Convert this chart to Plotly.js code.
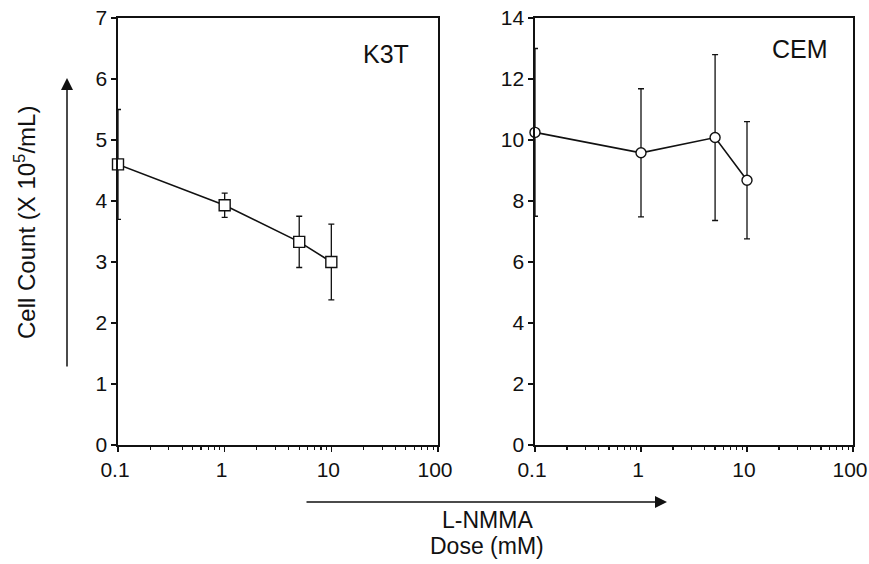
<!DOCTYPE html>
<html>
<head>
<meta charset="utf-8">
<script src="https://cdn.plot.ly/plotly-3.0.1.min.js"></script>
<style>html,body{margin:0;padding:0;background:#fff;}#chart{width:869px;height:564px;}</style>
</head>
<body>
<div id="chart"></div>
<script>
// Data
const dose = [0.1, 1, 5, 10];
const k3tCount = [4.6, 3.93, 3.33, 3.0];
const k3tErr = [0.9, 0.2, 0.42, 0.62];
const cemCount = [10.25, 9.58, 10.08, 8.68];
const cemErr = [2.75, 2.1, 2.72, 1.92];
const xTickVals = [0.1, 1, 10, 100];
const xTickText = ['0.1', '1', '10', '100'];
const minorTickVals = [0.2,0.3,0.4,0.5,0.6,0.7,0.8,0.9,2,3,4,5,6,7,8,9,20,30,40,50,60,70,80,90];

const fam = 'Liberation Sans, Arial, Helvetica, sans-serif';
const ink = '#111';

const traces = [
  {
    x: dose, y: k3tCount, xaxis: 'x', yaxis: 'y', type: 'scatter', mode: 'lines+markers',
    line: {color: ink, width: 1.6},
    marker: {symbol: 'square', size: 11, color: '#fff', line: {width: 1.4, color: ink}},
    error_y: {type: 'data', array: k3tErr, visible: true, color: ink, thickness: 1.3, width: 3},
    cliponaxis: false
  },
  {
    x: dose, y: cemCount, xaxis: 'x2', yaxis: 'y2', type: 'scatter', mode: 'lines+markers',
    line: {color: ink, width: 1.6},
    marker: {symbol: 'circle', size: 10, color: '#fff', line: {width: 1.4, color: ink}},
    error_y: {type: 'data', array: cemErr, visible: true, color: ink, thickness: 1.3, width: 3},
    cliponaxis: false
  }
];

const xCommon = {
  type: 'log', range: [-1, 2], tickvals: xTickVals, ticktext: xTickText,
  ticks: 'outside', ticklen: 5, tickwidth: 1.5, tickcolor: ink,
  showline: true, linecolor: ink, linewidth: 1.6, mirror: true,
  showgrid: false, zeroline: false, ticklabeloverflow: 'allow', ticklabelshift: -3,
  tickfont: {size: 21, family: fam, color: ink},
  minor: {tickvals: minorTickVals, ticks: 'outside', ticklen: 3, tickwidth: 1.2, tickcolor: ink, showgrid: false}
};
const yCommon = {
  ticks: 'outside', ticklen: 5, tickwidth: 1.5, tickcolor: ink,
  showline: true, linecolor: ink, linewidth: 1.6, mirror: true,
  showgrid: false, zeroline: false, ticklabeloverflow: 'allow',
  tickfont: {size: 21, family: fam, color: ink}
};

const layout = {
  width: 869, height: 564,
  margin: {l: 0, r: 0, t: 0, b: 0},
  paper_bgcolor: '#fff', plot_bgcolor: '#fff',
  showlegend: false,
  font: {family: fam, color: ink},
  xaxis: Object.assign({}, xCommon, {domain: [118/869, 438/869], anchor: 'y'}),
  yaxis: Object.assign({}, yCommon, {range: [0, 7], dtick: 1, domain: [1-445/564, 1-18/564], anchor: 'x'}),
  xaxis2: Object.assign({}, xCommon, {domain: [535/869, 853/869], anchor: 'y2'}),
  yaxis2: Object.assign({}, yCommon, {range: [0, 14], dtick: 2, domain: [1-445/564, 1-18/564], anchor: 'x2'}),
  annotations: [
    {text: 'K3T', xref: 'paper', yref: 'paper', x: 386/869, y: 1-54/564, showarrow: false,
     font: {size: 25, family: fam, color: ink}, xanchor: 'center', yanchor: 'middle'},
    {text: 'CEM', xref: 'paper', yref: 'paper', x: 800/869, y: 1-49/564, showarrow: false,
     font: {size: 25, family: fam, color: ink}, xanchor: 'center', yanchor: 'middle'},
    {text: 'Cell Count (X 10<sup>5</sup>/mL)', xref: 'paper', yref: 'paper', x: 25/869, y: 1-223/564,
     textangle: -90, showarrow: false, font: {size: 24, family: fam, color: ink},
     xanchor: 'center', yanchor: 'middle'},
    {text: 'L-NMMA', xref: 'paper', yref: 'paper', x: 487/869, y: 1-520/564,
     showarrow: false, font: {size: 23, family: fam, color: ink},
     xanchor: 'center', yanchor: 'middle'},
    {text: 'Dose (mM)', xref: 'paper', yref: 'paper', x: 487/869, y: 1-546/564,
     showarrow: false, font: {size: 23, family: fam, color: ink},
     xanchor: 'center', yanchor: 'middle'},
    {text: '', xref: 'paper', yref: 'paper', x: 67/869, y: 1-78/564, ax: 0, ay: 290,
     showarrow: true, arrowhead: 2, arrowsize: 1.6, arrowwidth: 1.5, arrowcolor: ink},
    {text: '', xref: 'paper', yref: 'paper', x: 667/869, y: 1-502/564, ax: -362, ay: 0,
     showarrow: true, arrowhead: 2, arrowsize: 1.6, arrowwidth: 1.5, arrowcolor: ink}
  ]
};

Plotly.newPlot('chart', traces, layout, {displayModeBar: false, staticPlot: true});
</script>
</body>
</html>
